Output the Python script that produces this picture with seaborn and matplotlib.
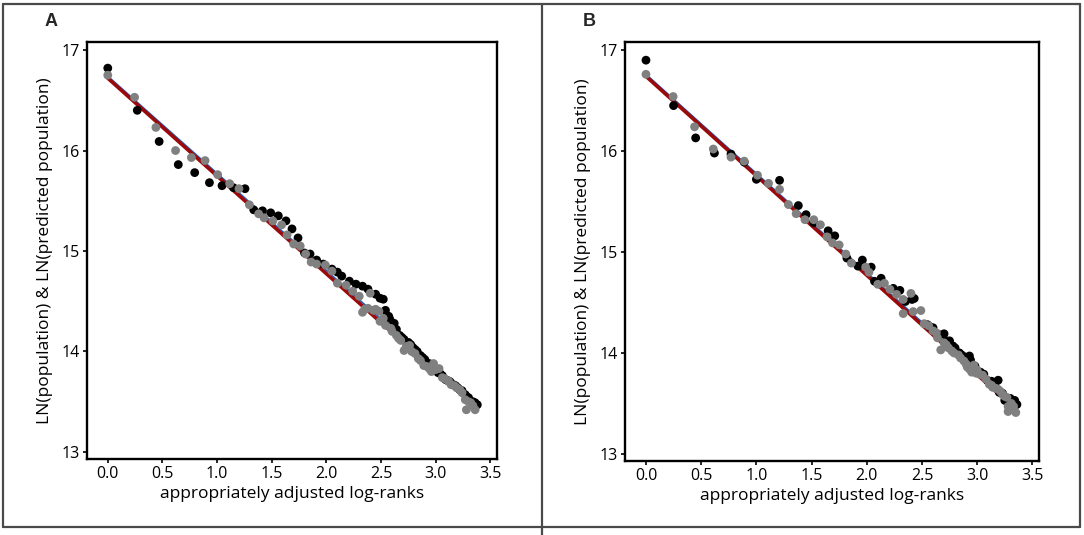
import matplotlib
matplotlib.use("Agg")
import matplotlib.pyplot as plt
from matplotlib.lines import Line2D
import seaborn as sns

sns.set_theme(style="ticks")
plt.rcParams["font.family"] = ["Open Sans", "DejaVu Sans"]

# panel A: observed (black) and predicted (grey) values
a_obs_x = [0.0, 0.27, 0.47, 0.645, 0.795, 0.93, 1.045, 1.15, 1.255, 1.335, 1.415, 1.49, 1.56,
           1.63, 1.685, 1.74, 1.80, 1.85, 1.91, 1.97, 2.05, 2.10, 2.14, 2.21, 2.27, 2.33, 2.38,
           2.45, 2.49, 2.52, 2.54, 2.57, 2.62, 2.67, 2.71, 2.75, 2.79, 2.83, 2.86, 2.90, 2.94,
           2.98, 3.02, 3.06, 3.09, 3.13, 3.16, 3.20, 3.24, 3.27, 3.30, 3.34, 3.38,
           2.58, 2.64, 2.69, 2.77, 2.81, 2.88, 2.96, 3.00, 3.04, 3.11, 3.18, 3.22, 3.28, 3.36]
a_obs_y = [16.82, 16.40, 16.09, 15.86, 15.78, 15.68, 15.65, 15.63, 15.62, 15.41, 15.40, 15.38, 15.35,
           15.30, 15.22, 15.13, 14.98, 14.97, 14.91, 14.87, 14.82, 14.79, 14.75, 14.70, 14.67, 14.65, 14.62,
           14.57, 14.53, 14.52, 14.41, 14.35, 14.28, 14.16, 14.12, 14.09, 14.04, 14.00, 13.96, 13.92, 13.88,
           13.84, 13.79, 13.76, 13.72, 13.70, 13.67, 13.64, 13.61, 13.57, 13.54, 13.50, 13.47,
           14.32, 14.22, 14.14, 14.07, 14.02, 13.94, 13.86, 13.82, 13.78, 13.71, 13.66, 13.62, 13.55, 13.49]
a_pred_x = [0.0, 0.245, 0.44, 0.62, 0.765, 0.89, 1.005, 1.115, 1.20, 1.295, 1.38, 1.43, 1.51,
            1.59, 1.64, 1.70, 1.76, 1.81, 1.86, 1.91, 1.99, 2.05, 2.10, 2.18, 2.24, 2.30, 2.33,
            2.38, 2.40, 2.43, 2.48, 2.49, 2.54, 2.59, 2.64, 2.68, 2.71, 2.76, 2.81, 2.86, 2.89,
            2.94, 2.98, 3.03, 3.06, 3.11, 3.14, 3.19, 3.24, 3.27, 3.28, 3.32, 3.36,
            2.35, 2.45, 2.52, 2.60, 2.66, 2.73, 2.78, 2.84, 2.92, 2.96, 3.00, 3.08, 3.12, 3.17,
            3.22, 3.30, 3.34]
a_pred_y = [16.75, 16.53, 16.23, 16.00, 15.93, 15.90, 15.76, 15.67, 15.62, 15.46, 15.37, 15.33, 15.30,
            15.26, 15.16, 15.07, 15.05, 14.97, 14.89, 14.87, 14.86, 14.80, 14.68, 14.66, 14.60, 14.55, 14.39,
            14.43, 14.58, 14.41, 14.40, 14.30, 14.26, 14.23, 14.16, 14.11, 14.01, 14.06, 13.98, 13.91, 13.86,
            13.83, 13.88, 13.83, 13.74, 13.71, 13.67, 13.64, 13.59, 13.52, 13.42, 13.49, 13.42,
            14.42, 14.42, 14.33, 14.20, 14.13, 14.05, 14.00, 13.93, 13.85, 13.80, 13.82, 13.73, 13.70, 13.66,
            13.62, 13.50, 13.46]

# panel B: observed (black) and predicted (grey) values
b_obs_x = [0.0, 0.25, 0.45, 0.62, 0.77, 0.89, 1.00, 1.21, 1.38, 1.45, 1.52, 1.65, 1.71, 1.82,
           1.92, 1.96, 2.04, 2.07, 2.13, 2.24, 2.30, 2.35, 2.41, 2.43, 2.55, 2.60, 2.70, 2.75,
           2.80, 2.86, 2.93, 2.94, 3.03, 3.09, 3.19, 3.20, 3.25, 3.34, 3.36,
           2.57, 2.66, 2.72, 2.78, 2.84, 2.89, 2.98, 3.06, 3.13, 3.16, 3.23, 3.30, 3.33]
b_obs_y = [16.90, 16.45, 16.13, 15.98, 15.97, 15.89, 15.72, 15.71, 15.46, 15.37, 15.29, 15.21, 15.16, 14.94,
           14.86, 14.92, 14.85, 14.71, 14.74, 14.64, 14.62, 14.51, 14.53, 14.54, 14.28, 14.25, 14.19, 14.12,
           14.05, 13.98, 13.97, 13.93, 13.81, 13.73, 13.73, 13.61, 13.53, 13.53, 13.49,
           14.26, 14.18, 14.12, 14.07, 14.00, 13.96, 13.87, 13.79, 13.72, 13.69, 13.60, 13.55, 13.51]
b_pred_x = [0.0, 0.246, 0.44, 0.61, 0.77, 0.89, 1.01, 1.11, 1.21, 1.29, 1.36, 1.44, 1.52, 1.58,
            1.64, 1.69, 1.75, 1.81, 1.86, 1.99, 2.02, 2.10, 2.16, 2.21, 2.27, 2.33, 2.40, 2.33,
            2.42, 2.49, 2.52, 2.63, 2.64, 2.70, 2.67, 2.77, 2.83, 2.88, 2.91, 2.97, 2.95, 3.00,
            3.05, 3.11, 3.14, 3.19, 3.23, 3.27, 3.28, 3.28, 3.35,
            2.56, 2.60, 2.72, 2.74, 2.79, 2.85, 2.90, 2.93, 2.99, 3.02, 3.08, 3.13, 3.17, 3.21,
            3.25, 3.31, 3.33]
b_pred_y = [16.76, 16.54, 16.24, 16.02, 15.94, 15.90, 15.76, 15.68, 15.62, 15.47, 15.38, 15.32, 15.32, 15.27,
            15.15, 15.09, 15.07, 14.98, 14.89, 14.85, 14.80, 14.68, 14.69, 14.63, 14.58, 14.53, 14.59, 14.39,
            14.41, 14.42, 14.29, 14.20, 14.15, 14.10, 14.03, 14.02, 13.98, 13.92, 13.86, 13.88, 13.81, 13.83,
            13.78, 13.69, 13.66, 13.64, 13.59, 13.56, 13.47, 13.42, 13.41,
            14.27, 14.22, 14.08, 14.05, 14.00, 13.95, 13.89, 13.84, 13.80, 13.79, 13.74, 13.68, 13.65, 13.62,
            13.57, 13.50, 13.47]

# fitted lines (end points)
a_blue_x, a_blue_y = [0.0, 3.37], [16.74, 13.48]
a_red_x, a_red_y = [0.0, 3.36], [16.72, 13.45]
b_blue_x, b_blue_y = [0.0, 3.34], [16.76, 13.48]
b_red_x, b_red_y = [0.0, 3.33], [16.74, 13.46]

panels = [
    ("A", a_obs_x, a_obs_y, a_pred_x, a_pred_y, a_blue_x, a_blue_y, a_red_x, a_red_y,
     [87 / 1084, 1 - 459 / 535, 410 / 1084, 417 / 535]),
    ("B", b_obs_x, b_obs_y, b_pred_x, b_pred_y, b_blue_x, b_blue_y, b_red_x, b_red_y,
     [625 / 1084, 1 - 461 / 535, 414 / 1084, 419 / 535]),
]

fig = plt.figure(figsize=(10.84, 5.35), dpi=100)

for label, ox, oy, px, py, bx, by, rx, ry, rect in panels:
    ax = fig.add_axes(rect)
    sns.lineplot(x=bx, y=by, ax=ax, color="#1f5fbf", linewidth=1.2)
    sns.lineplot(x=rx, y=ry, ax=ax, color="#9b0a0a", linewidth=2.6)
    sns.scatterplot(x=ox, y=oy, ax=ax, color="black", s=40, edgecolor="none", zorder=3)
    sns.scatterplot(x=px, y=py, ax=ax, color="#808080", s=40, edgecolor="none", zorder=4)
    ax.set_xlim(-0.19, 3.56)
    ax.set_ylim(12.93, 17.08)
    ax.set_xticks([0.0, 0.5, 1.0, 1.5, 2.0, 2.5, 3.0, 3.5])
    ax.set_xticklabels(["0.0", "0.5", "1.0", "1.5", "2.0", "2.5", "3.0", "3.5"])
    ax.set_yticks([13, 14, 15, 16, 17])
    ax.tick_params(axis="both", labelsize=11.5, length=3, width=1.2, color="black",
                   labelcolor="black", pad=2)
    for sp in ax.spines.values():
        sp.set_linewidth(1.7)
        sp.set_color("black")
    ax.set_xlabel("appropriately adjusted log-ranks", fontsize=12.5, color="black", labelpad=3)
    ax.set_ylabel("LN(population) & LN(predicted population)", fontsize=12.5, color="black", labelpad=6)
    x0 = rect[0] - 42 / 1084
    fig.text(x0, 1 - 22 / 535, label, fontsize=13, fontweight="bold", ha="left", va="center",
             family=["Liberation Sans", "DejaVu Sans"])

# outer frame and divider
frame_col = "#4a4a4a"
top, bottom = 1 - 3.5 / 535, 1 - 526.5 / 535
left, right, mid = 3 / 1084, 1080 / 1084, 541.5 / 1084
for xs, ys in [([left, right], [top, top]), ([left, right], [bottom, bottom]),
               ([left, left], [bottom, top]), ([right, right], [bottom, top]),
               ([mid, mid], [0, top])]:
    fig.add_artist(Line2D(xs, ys, transform=fig.transFigure, color=frame_col, linewidth=1.6))

fig.savefig("out.png", dpi=100)
